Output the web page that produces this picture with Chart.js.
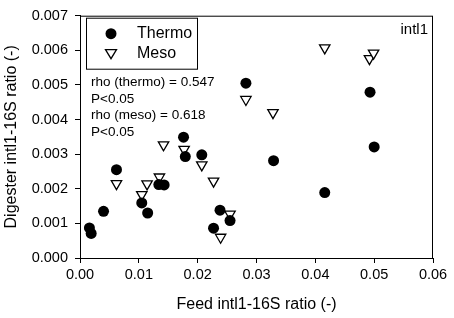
<!DOCTYPE html>
<html>
<head>
<meta charset="utf-8">
<script src="https://cdn.jsdelivr.net/npm/chart.js@4/dist/chart.umd.min.js"></script>
<style>
  html, body { margin: 0; padding: 0; background: #fff; }
  canvas { display: block; }
</style>
</head>
<body>
<canvas id="grafico" width="454" height="318"></canvas>
<script>
// datos
var thermoX = [0.0016, 0.0019, 0.0040, 0.0062, 0.0105, 0.0115, 0.0134, 0.0143, 0.0176, 0.0179, 0.0207, 0.0227, 0.0238, 0.0255, 0.0282, 0.0329, 0.0416, 0.0493, 0.0500];
var thermoY = [0.00087, 0.00071, 0.00135, 0.00255, 0.00159, 0.00130, 0.00212, 0.00211, 0.00349, 0.00293, 0.00298, 0.00086, 0.00138, 0.00108, 0.00505, 0.00281, 0.00189, 0.00479, 0.00321];
var mesoX = [0.0062, 0.0105, 0.0114, 0.0135, 0.0142, 0.0177, 0.0207, 0.0227, 0.0239, 0.0255, 0.0282, 0.0328, 0.0416, 0.0492, 0.0499];
var mesoY = [0.00215, 0.00183, 0.00214, 0.00234, 0.00327, 0.00314, 0.00269, 0.00222, 0.00060, 0.00127, 0.00458, 0.00420, 0.00607, 0.00576, 0.00592];
var etiquetasSerie = ['Thermo', 'Meso'];
var notas = ['rho (thermo) = 0.547', 'P<0.05', 'rho (meso) = 0.618', 'P<0.05'];
var panel = 'intl1';

var fuente = "'Liberation Sans', Arial, sans-serif";

function puntos(xs, ys) {
    var out = [];
    for (var i = 0; i < xs.length; i++) out.push({ x: xs[i], y: ys[i] });
    return out;
}

// caja, leyenda y textos dentro del area
var cajaPlugin = {
    id: 'caja',
    afterDraw: function (chart) {
        var ctx = chart.ctx;
        var a = chart.chartArea;
        ctx.save();
        ctx.strokeStyle = '#000';
        ctx.lineWidth = 1;
        ctx.strokeRect(a.left + 0.5, a.top + 0.5, a.right - a.left - 1, a.bottom - a.top);

        // leyenda
        ctx.strokeRect(a.left + 6.5, a.top + 2.5, 111, 51);
        ctx.font = '16px ' + fuente;
        ctx.fillStyle = '#000';
        ctx.textBaseline = 'middle';
        ctx.textAlign = 'left';
        ctx.fillText(etiquetasSerie[0], a.left + 57, a.top + 18);
        ctx.fillText(etiquetasSerie[1], a.left + 57, a.top + 38);

        ctx.beginPath();
        ctx.arc(a.left + 31, a.top + 18, 5.5, 0, Math.PI * 2);
        ctx.fill();

        ctx.beginPath();
        var cx = a.left + 31, cy = a.top + 38;
        ctx.moveTo(cx - 5.5, cy - 4);
        ctx.lineTo(cx + 5.5, cy - 4);
        ctx.lineTo(cx, cy + 5);
        ctx.closePath();
        ctx.fillStyle = '#fff';
        ctx.fill();
        ctx.lineWidth = 1.3;
        ctx.stroke();

        // notas
        ctx.fillStyle = '#000';
        ctx.font = '13.5px ' + fuente;
        for (var i = 0; i < notas.length; i++) {
            ctx.fillText(notas[i], a.left + 11, a.top + 67 + i * 16.5);
        }

        ctx.font = '15px ' + fuente;
        ctx.textAlign = 'right';
        ctx.fillText(panel, a.right - 5, a.top + 14);
        ctx.restore();
    }
};

var ctx = document.getElementById('grafico');

var myChart = new Chart(ctx, {
    type: 'scatter',
    data: {
        datasets: [{
            label: etiquetasSerie[0],
            data: puntos(thermoX, thermoY),
            pointStyle: 'circle',
            pointRadius: 5.5,
            pointHoverRadius: 5.5,
            backgroundColor: '#000',
            borderColor: '#000',
            borderWidth: 0
        }, {
            label: etiquetasSerie[1],
            data: puntos(mesoX, mesoY),
            pointStyle: 'triangle',
            rotation: 180,
            pointRadius: 6,
            pointHoverRadius: 6,
            backgroundColor: '#fff',
            borderColor: '#000',
            borderWidth: 1.3
        }]
    },
    options: {
        responsive: false,
        animation: false,
        layout: { padding: { top: 15, right: 21, left: 0, bottom: 0 } },
        plugins: {
            legend: { display: false },
            tooltip: { enabled: false }
        },
        scales: {
            x: {
                type: 'linear',
                min: 0,
                max: 0.06,
                afterFit: function (s) { s.height = 60; },
                ticks: {
                    stepSize: 0.01,
                    color: '#000',
                    padding: 3,
                    font: { family: fuente, size: 14.5 },
                    callback: function (v) { return v.toFixed(2); }
                },
                grid: { drawOnChartArea: false, tickLength: 5, color: '#000' },
                border: { color: '#000' },
                title: {
                    display: true,
                    text: 'Feed intl1-16S ratio (-)',
                    color: '#000',
                    font: { family: fuente, size: 16 },
                    padding: { top: 4, bottom: 4 }
                }
            },
            y: {
                type: 'linear',
                min: 0,
                max: 0.007,
                afterFit: function (s) { s.width = 80; },
                ticks: {
                    stepSize: 0.001,
                    color: '#000',
                    padding: 7,
                    font: { family: fuente, size: 14.5 },
                    callback: function (v) { return v.toFixed(3); }
                },
                grid: { drawOnChartArea: false, tickLength: 5, color: '#000' },
                border: { color: '#000' },
                title: {
                    display: true,
                    text: 'Digester intl1-16S ratio (-)',
                    color: '#000',
                    font: { family: fuente, size: 16 },
                    padding: { top: 2, bottom: 4 }
                }
            }
        }
    },
    plugins: [cajaPlugin]
});
</script>
</body>
</html>
